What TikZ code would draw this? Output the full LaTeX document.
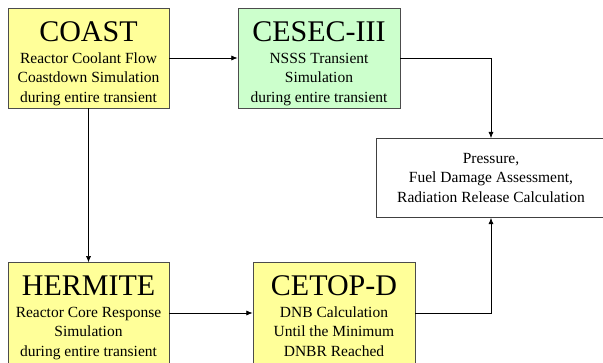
\documentclass[tikz,border=0pt]{standalone}
\usepackage{fontspec}
\setmainfont{Liberation Serif}
\usetikzlibrary{arrows.meta,positioning,calc}
\definecolor{codeYellow}{RGB}{255,255,153}
\definecolor{codeGreen}{RGB}{204,255,204}
\tikzset{flowchart/.style={
  x=1pt, y=-1pt,
  codebox/.style={draw=black!70, line width=0.9pt, inner sep=2pt, align=center, font=\rmfamily\fontsize{15.5}{19.5}\selectfont},
  resultbox/.style={draw=black!75, line width=0.8pt, fill=white, inner sep=2pt, align=center, font=\rmfamily\fontsize{15.5}{19.5}\selectfont},
  flow/.style={-{Latex[length=2.2mm, width=1.8mm]}, line width=0.7pt},
}}
\newcommand{\codename}[1]{{\fontsize{30}{32}\selectfont\rule{0pt}{31pt}#1}\\[2pt]}
\newcommand{\cutpad}{\rule[-9pt]{0pt}{0pt}}

\begin{document}
\begin{tikzpicture}[flowchart]
\useasboundingbox (0,0) rectangle (603,363);
% =====================================================================
%  codes along the top row
% =====================================================================
\node[codebox, fill=codeYellow, minimum width=161pt, minimum height=100pt] (coast) at (88.5,58)
  {\codename{COAST}Reactor Coolant Flow\\Coastdown Simulation\\during entire transient};
\node[codebox, fill=codeGreen, minimum width=162pt, minimum height=100pt] (cesec) at (319,58)
  {\codename{CESEC-III}NSSS Transient\\Simulation\\during entire transient};

% =====================================================================
%  results
% =====================================================================
\node[resultbox, minimum width=230pt, minimum height=79pt] (result) at (491,178)
  {Pressure,\\Fuel Damage Assessment,\\Radiation Release Calculation};

% =====================================================================
%  codes along the bottom row (cut by the lower edge)
% =====================================================================
\node[codebox, fill=codeYellow, minimum width=161pt, minimum height=104pt] (hermite) at (88.5,315)
  {\codename{HERMITE}Reactor Core Response\\Simulation\\during entire transient\cutpad};
\node[codebox, fill=codeYellow, minimum width=162pt, minimum height=104pt] (cetop) at (334,315)
  {\codename{CETOP-D}DNB Calculation\\Until the Minimum\\DNBR Reached\cutpad};

\draw[flow] (coast.east) -- (cesec.west);
\draw[flow] (cesec.east) -| (result.north);
\draw[flow] (coast.south) -- (hermite.north);
\draw[flow] ([yshift=2pt]hermite.east) -- ([yshift=2pt]cetop.west);
\draw[flow] ([yshift=2pt]cetop.east) -| (result.south);
\end{tikzpicture}
\end{document}
